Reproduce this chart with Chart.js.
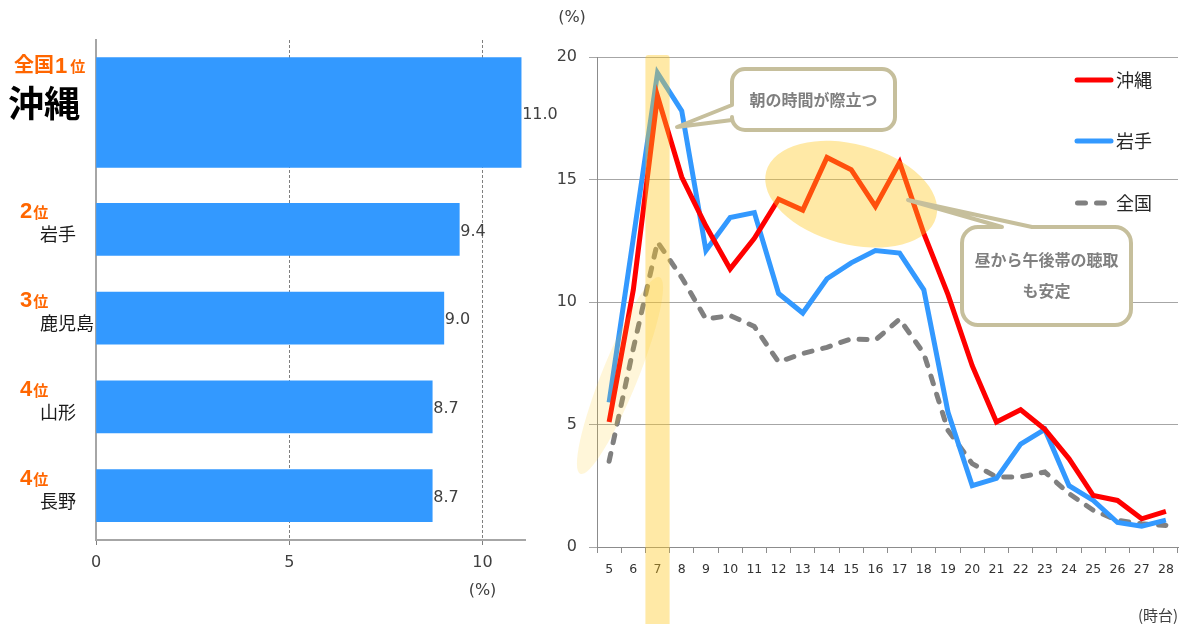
<!DOCTYPE html>
<html>
<head>
<meta charset="utf-8">
<script src="https://cdn.jsdelivr.net/npm/chart.js@4.4.0/dist/chart.umd.min.js"></script>
<style>
  html, body { margin: 0; padding: 0; background: #fff; }
  #wrap { position: relative; width: 1184px; height: 624px; overflow: hidden; background: #fff; }
  canvas { position: absolute; }
</style>
</head>
<body>
<div id="wrap">
  <canvas id="rankTop" width="570" height="185" style="left:0;top:0"></canvas>
  <canvas id="rankRest" width="570" height="439" style="left:0;top:185px"></canvas>
  <canvas id="hourly" width="644" height="624" style="left:540px;top:0"></canvas>
</div>
<script>
// ---- ranking of radio listening share by prefecture ----
const prefectures = ['沖縄', '岩手', '鹿児島', '山形', '長野'];
const rankNumbers = ['1', '2', '3', '4', '4'];
const listeningShare = [11.0, 9.4, 9.0, 8.7, 8.7];
const shareTicks = [0, 5, 10];

// ---- listening rate by hour of day ----
const hours = ['5', '6', '7', '8', '9', '10', '11', '12', '13', '14', '15', '16',
               '17', '18', '19', '20', '21', '22', '23', '24', '25', '26', '27', '28'];
const okinawaRate  = [5.1, 10.5, 18.4, 15.1, 13.1, 11.35, 12.6, 14.2, 13.75, 15.9, 15.4, 13.9,
                      15.7, 12.8, 10.3, 7.4, 5.1, 5.6, 4.8, 3.6, 2.1, 1.9, 1.15, 1.45];
const iwateRate    = [5.9, 12.6, 19.35, 17.8, 12.1, 13.45, 13.65, 10.35, 9.55, 10.95, 11.6, 12.1,
                      12.0, 10.5, 5.5, 2.5, 2.8, 4.2, 4.8, 2.5, 1.9, 1.0, 0.85, 1.1];
const nationalRate = [3.5, 8.1, 12.45, 11.0, 9.3, 9.45, 9.0, 7.55, 7.9, 8.15, 8.5, 8.45,
                      9.3, 7.9, 4.76, 3.4, 2.86, 2.86, 3.06, 2.18, 1.5, 1.09, 0.95, 0.88];
const rateTicks = [0, 5, 10, 15, 20];

const JP = '"Noto Sans CJK JP", sans-serif';
const ORANGE = '#ff6600';
const BAR_BLUE = '#3399ff';

Chart.defaults.font.family = '"DejaVu Sans", sans-serif';
Chart.defaults.color = '#404040';

// value printed just past the end of each bar
const valueLabels = {
  id: 'valueLabels',
  afterDatasetsDraw(chart) {
    const ctx = chart.ctx;
    const ds = chart.data.datasets[0];
    ctx.save();
    ctx.font = '16px "DejaVu Sans"';
    ctx.fillStyle = '#404040';
    ctx.textAlign = 'left';
    ctx.textBaseline = 'middle';
    chart.getDatasetMeta(0).data.forEach((bar, i) => {
      ctx.fillText(ds.data[i].toFixed(1), bar.x + 1, bar.y + 2);
    });
    ctx.restore();
  }
};

// rank + prefecture name to the left of each bar
function rankLabels(startIndex, headline) {
  return {
    id: 'rankLabels',
    afterDraw(chart) {
      const ctx = chart.ctx;
      const ys = chart.scales.y;
      ctx.save();
      ctx.textAlign = 'left';
      ctx.textBaseline = 'alphabetic';
      chart.data.labels.forEach((name, i) => {
        const k = startIndex + i;
        const cy = ys.getPixelForValue(i);
        ctx.fillStyle = ORANGE;
        if (headline) {
          let x = 14;
          const base = cy - 41;
          ctx.font = 'bold 20px ' + JP;
          ctx.fillText('全国', x, base);
          x += ctx.measureText('全国').width + 1;
          ctx.font = 'bold 22px "Liberation Sans"';
          ctx.fillText(rankNumbers[k], x, base + 1);
          x += ctx.measureText(rankNumbers[k]).width + 3;
          ctx.font = 'bold 15px ' + JP;
          ctx.fillText('位', x, base);
          ctx.fillStyle = '#000';
          ctx.font = 'bold 36px ' + JP;
          ctx.fillText(name, 8, cy + 4);
        } else {
          let x = 20;
          const base = cy - 11;
          ctx.font = 'bold 22px "Liberation Sans"';
          ctx.fillText(rankNumbers[k], x, base);
          x += ctx.measureText(rankNumbers[k]).width + 1;
          ctx.font = 'bold 15px ' + JP;
          ctx.fillText('位', x, base);
          ctx.fillStyle = '#1a1a1a';
          ctx.font = '18px ' + JP;
          ctx.fillText(name, 40, cy + 12);
        }
      });
      ctx.restore();
    }
  };
}

const shareUnit = {
  id: 'shareUnit',
  afterDraw(chart) {
    const ctx = chart.ctx;
    const xs = chart.scales.x;
    ctx.save();
    ctx.font = '16px "DejaVu Sans"';
    ctx.fillStyle = '#404040';
    ctx.textAlign = 'center';
    ctx.textBaseline = 'middle';
    ctx.fillText('(%)', xs.getPixelForValue(10), chart.chartArea.bottom + 51);
    ctx.restore();
  }
};

function shareScaleX(showAxis) {
  return {
    min: 0, max: 11.1,
    afterBuildTicks(s) { s.ticks = shareTicks.map(v => ({ value: v })); },
    grid: {
      color: c => (c.tick && c.tick.value === 0) ? 'rgba(0,0,0,0)' : '#7f7f7f',
      lineWidth: 1,
      drawTicks: showAxis,
      tickLength: 5,
      tickColor: '#7f7f7f'
    },
    border: { display: showAxis, color: '#a6a6a6', width: 2, dash: [3, 2] },
    ticks: { display: showAxis, padding: 8, color: '#404040', font: { size: 16 } },
    afterFit(s) { s.height = showAxis ? 84 : 0; }
  };
}

const shareScaleY = {
  grid: { display: false },
  border: { display: true, color: '#a6a6a6', width: 2 },
  ticks: { display: false },
  afterFit(s) { s.width = 0; }
};

// top: the leader, drawn with a taller bar
new Chart(document.getElementById('rankTop'), {
  type: 'bar',
  data: {
    labels: prefectures.slice(0, 1),
    datasets: [{ data: listeningShare.slice(0, 1), backgroundColor: BAR_BLUE, barThickness: 110 }]
  },
  options: {
    indexAxis: 'y', responsive: false, animation: false, events: [],
    layout: { padding: { left: 96, right: 45, top: 40, bottom: 0 } },
    plugins: { legend: { display: false }, tooltip: { enabled: false } },
    scales: { x: shareScaleX(false), y: shareScaleY }
  },
  plugins: [valueLabels, rankLabels(0, true)]
});

// below: the runners-up
new Chart(document.getElementById('rankRest'), {
  type: 'bar',
  data: {
    labels: prefectures.slice(1),
    datasets: [{ data: listeningShare.slice(1), backgroundColor: BAR_BLUE, barThickness: 52 }]
  },
  options: {
    indexAxis: 'y', responsive: false, animation: false, events: [],
    layout: { padding: { left: 96, right: 45, top: 0, bottom: 0 } },
    plugins: { legend: { display: false }, tooltip: { enabled: false } },
    scales: { x: shareScaleX(true), y: shareScaleY }
  },
  plugins: [valueLabels, rankLabels(1, false), shareUnit]
});

// ---- hourly chart decorations ----
const HILITE = 'rgba(255, 200, 32, 0.4)';
const HILITE_FAINT = 'rgba(255, 200, 32, 0.17)';
const NOTE_EDGE = '#c6bf9c';

const highlights = {
  id: 'highlights',
  afterDatasetsDraw(chart) {
    const ctx = chart.ctx;
    const xs = chart.scales.x, ys = chart.scales.y;
    const step = xs.getPixelForValue(1) - xs.getPixelForValue(0);
    ctx.save();
    // morning column around 7時台
    const cx = xs.getPixelForValue(hours.indexOf('7'));
    ctx.fillStyle = HILITE;
    ctx.beginPath();
    ctx.roundRect(cx - step / 2, chart.chartArea.top - 2, step, chart.height, 3);
    ctx.fill();
    // daytime plateau
    ctx.beginPath();
    ctx.ellipse(xs.getPixelForValue(hours.indexOf('15')), ys.getPixelForValue(14.4),
                88, 50, 15 * Math.PI / 180, 0, Math.PI * 2);
    ctx.fill();
    // early morning rise
    ctx.fillStyle = HILITE_FAINT;
    ctx.beginPath();
    ctx.ellipse(xs.getPixelForValue(0) + step * 0.45, ys.getPixelForValue(7.0),
                106, 18, -68 * Math.PI / 180, 0, Math.PI * 2);
    ctx.fill();
    ctx.restore();
  }
};

function bubblePath(ctx, x, y, w, h, r, side, a, b, tx, ty) {
  ctx.beginPath();
  ctx.moveTo(x + r, y);
  if (side === 'top') { ctx.lineTo(a, y); ctx.lineTo(tx, ty); ctx.lineTo(b, y); }
  ctx.lineTo(x + w - r, y);
  ctx.arcTo(x + w, y, x + w, y + r, r);
  ctx.lineTo(x + w, y + h - r);
  ctx.arcTo(x + w, y + h, x + w - r, y + h, r);
  ctx.lineTo(x + r, y + h);
  ctx.arcTo(x, y + h, x, y + h - r, r);
  if (side === 'left') { ctx.lineTo(x, b); ctx.lineTo(tx, ty); ctx.lineTo(x, a); }
  ctx.lineTo(x, y + r);
  ctx.arcTo(x, y, x + r, y, r);
  ctx.closePath();
}

const notes = [
  { box: [192, 69, 163, 61], r: 13, side: 'left', a: 105, b: 120, tip: [137, 127],
    lines: ['朝の時間が際立つ'], textY: [100] },
  { box: [422, 227, 169, 98], r: 16, side: 'top', a: 462, b: 492, tip: [368, 200],
    lines: ['昼から午後帯の聴取', 'も安定'], textY: [260, 291] }
];

const callouts = {
  id: 'callouts',
  afterDatasetsDraw(chart) {
    const ctx = chart.ctx;
    ctx.save();
    notes.forEach(n => {
      const [x, y, w, h] = n.box;
      bubblePath(ctx, x, y, w, h, n.r, n.side, n.a, n.b, n.tip[0], n.tip[1]);
      ctx.fillStyle = '#fff';
      ctx.fill();
      ctx.lineWidth = 4;
      ctx.lineJoin = 'round';
      ctx.strokeStyle = NOTE_EDGE;
      ctx.stroke();
      ctx.fillStyle = '#7f7f7f';
      ctx.font = 'bold 16px ' + JP;
      ctx.textAlign = 'center';
      ctx.textBaseline = 'middle';
      n.lines.forEach((t, i) => ctx.fillText(t, x + w / 2, n.textY[i]));
    });
    ctx.restore();
  }
};

const seriesKey = {
  id: 'seriesKey',
  afterDatasetsDraw(chart) {
    const ctx = chart.ctx;
    const rows = [80, 141, 203];
    ctx.save();
    chart.data.datasets.forEach((ds, i) => {
      const y = rows[i];
      ctx.strokeStyle = ds.borderColor;
      ctx.lineWidth = 5;
      ctx.lineCap = 'round';
      ctx.setLineDash(ds.borderDash || []);
      ctx.beginPath();
      if (ds.borderDash) { ctx.moveTo(537.5, y); ctx.lineTo(567, y); }
      else { ctx.moveTo(537, y); ctx.lineTo(571, y); }
      ctx.stroke();
      ctx.setLineDash([]);
      ctx.fillStyle = '#262626';
      ctx.font = '18px ' + JP;
      ctx.textAlign = 'left';
      ctx.textBaseline = 'middle';
      ctx.fillText(ds.label, 576, y);
    });
    ctx.restore();
  }
};

const rateUnits = {
  id: 'rateUnits',
  afterDraw(chart) {
    const ctx = chart.ctx;
    ctx.save();
    ctx.fillStyle = '#404040';
    ctx.textAlign = 'center';
    ctx.textBaseline = 'middle';
    ctx.font = '16px "DejaVu Sans"';
    ctx.fillText('(%)', 32, 18);
    ctx.font = '15px ' + JP;
    ctx.fillText('(時台)', 618, 615);
    ctx.restore();
  }
};

new Chart(document.getElementById('hourly'), {
  type: 'line',
  data: {
    labels: hours,
    datasets: [
      { label: '沖縄', data: okinawaRate, borderColor: '#ff0000', borderWidth: 5, pointRadius: 0 },
      { label: '岩手', data: iwateRate, borderColor: '#3399ff', borderWidth: 5, pointRadius: 0 },
      { label: '全国', data: nationalRate, borderColor: '#808080', borderWidth: 5, pointRadius: 0,
        borderDash: [8, 11], borderCapStyle: 'round' }
    ]
  },
  options: {
    responsive: false, animation: false, events: [],
    layout: { padding: { top: 57, right: 6, left: 0, bottom: 0 } },
    plugins: { legend: { display: false }, tooltip: { enabled: false } },
    scales: {
      x: {
        offset: true,
        grid: { offset: true, drawOnChartArea: false, tickLength: 6, color: '#8c8c8c' },
        border: { color: '#8c8c8c' },
        ticks: { padding: 9, color: '#333', font: { size: 12.5 }, maxRotation: 0, autoSkip: false },
        afterFit(s) { s.height = 77; }
      },
      y: {
        min: 0, max: 20,
        afterBuildTicks(s) { s.ticks = rateTicks.map(v => ({ value: v })); },
        grid: { color: '#a6a6a6', tickLength: 8 },
        border: { color: '#8c8c8c' },
        ticks: { padding: 12, color: '#404040', font: { size: 16 } },
        afterFit(s) { s.width = 57; }
      }
    }
  },
  plugins: [highlights, callouts, seriesKey, rateUnits]
});
</script>
</body>
</html>
